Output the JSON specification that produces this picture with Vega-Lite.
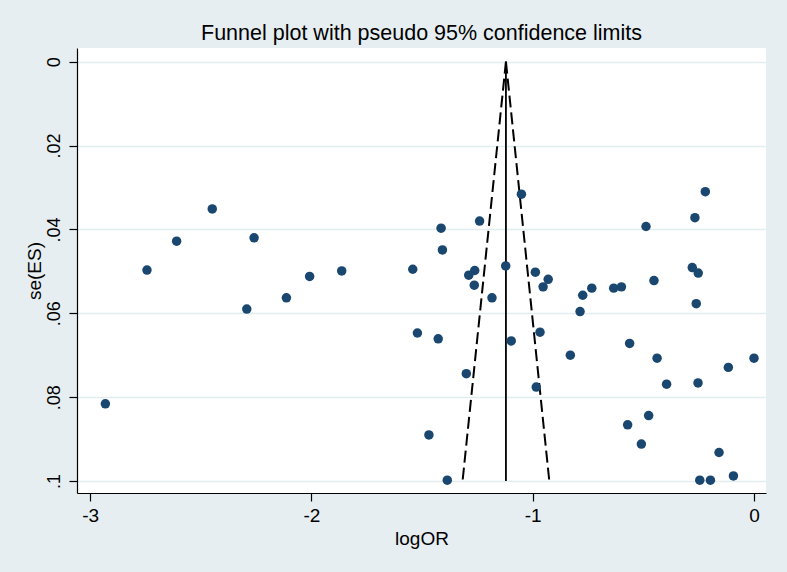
{
  "$schema": "https://vega.github.io/schema/vega-lite/v6.json",
  "width": 689,
  "height": 445,
  "autosize": {"type": "none"},
  "padding": {"left": 77, "top": 48, "right": 21, "bottom": 79},
  "background": "#e6eef1",
  "title": {
    "text": "Funnel plot with pseudo 95% confidence limits",
    "font": "Liberation Sans",
    "fontSize": 21.5,
    "fontWeight": "normal",
    "color": "#000000",
    "anchor": "middle",
    "baseline": "alphabetic",
    "offset": 7,
    "dy": 20
  },
  "config": {
    "view": {"fill": "#ffffff", "stroke": null},
    "axis": {
      "labelFont": "Liberation Sans",
      "titleFont": "Liberation Sans",
      "labelColor": "#000000",
      "titleColor": "#000000",
      "domainColor": "#000000",
      "tickColor": "#000000",
      "domainWidth": 1.2,
      "tickWidth": 1.2,
      "tickSize": 8,
      "titleFontWeight": "normal"
    }
  },
  "datasets": {
    "studies": [
      {"logOR": -2.448, "se": 0.0351},
      {"logOR": -2.609, "se": 0.0428},
      {"logOR": -2.259, "se": 0.0420},
      {"logOR": -2.743, "se": 0.0497},
      {"logOR": -2.008, "se": 0.0512},
      {"logOR": -1.863, "se": 0.0499},
      {"logOR": -2.113, "se": 0.0563},
      {"logOR": -2.292, "se": 0.0590},
      {"logOR": -2.931, "se": 0.0816},
      {"logOR": -1.051, "se": 0.0316},
      {"logOR": -1.240, "se": 0.0380},
      {"logOR": -1.414, "se": 0.0397},
      {"logOR": -1.408, "se": 0.0449},
      {"logOR": -1.542, "se": 0.0495},
      {"logOR": -1.122, "se": 0.0487},
      {"logOR": -1.262, "se": 0.0498},
      {"logOR": -1.289, "se": 0.0509},
      {"logOR": -1.264, "se": 0.0533},
      {"logOR": -0.988, "se": 0.0502},
      {"logOR": -0.930, "se": 0.0519},
      {"logOR": -0.953, "se": 0.0537},
      {"logOR": -1.184, "se": 0.0563},
      {"logOR": -1.521, "se": 0.0647},
      {"logOR": -1.427, "se": 0.0661},
      {"logOR": -1.097, "se": 0.0666},
      {"logOR": -0.967, "se": 0.0645},
      {"logOR": -0.830, "se": 0.0700},
      {"logOR": -1.300, "se": 0.0744},
      {"logOR": -0.984, "se": 0.0776},
      {"logOR": -1.469, "se": 0.0890},
      {"logOR": -1.386, "se": 0.0998},
      {"logOR": -0.220, "se": 0.0310},
      {"logOR": -0.267, "se": 0.0372},
      {"logOR": -0.488, "se": 0.0393},
      {"logOR": -0.279, "se": 0.0491},
      {"logOR": -0.252, "se": 0.0504},
      {"logOR": -0.452, "se": 0.0522},
      {"logOR": -0.733, "se": 0.0540},
      {"logOR": -0.774, "se": 0.0557},
      {"logOR": -0.634, "se": 0.0540},
      {"logOR": -0.599, "se": 0.0537},
      {"logOR": -0.261, "se": 0.0577},
      {"logOR": -0.786, "se": 0.0596},
      {"logOR": -0.562, "se": 0.0672},
      {"logOR": -0.438, "se": 0.0707},
      {"logOR": 0.000, "se": 0.0707},
      {"logOR": -0.116, "se": 0.0729},
      {"logOR": -0.395, "se": 0.0769},
      {"logOR": -0.253, "se": 0.0766},
      {"logOR": -0.476, "se": 0.0844},
      {"logOR": -0.571, "se": 0.0866},
      {"logOR": -0.509, "se": 0.0912},
      {"logOR": -0.158, "se": 0.0932},
      {"logOR": -0.245, "se": 0.0998},
      {"logOR": -0.197, "se": 0.0998},
      {"logOR": -0.093, "se": 0.0988}
    ],
    "limits": [
      {"logOR": -1.121, "se": 0.0, "side": "lower"},
      {"logOR": -1.317, "se": 0.1, "side": "lower"},
      {"logOR": -1.121, "se": 0.0, "side": "upper"},
      {"logOR": -0.925, "se": 0.1, "side": "upper"}
    ],
    "pooled": [
      {"logOR": -1.121, "se": 0.0},
      {"logOR": -1.121, "se": 0.1}
    ]
  },
  "encoding": {
    "x": {
      "field": "logOR",
      "type": "quantitative",
      "scale": {"domain": [-3.0592, 0.0542], "nice": false, "zero": false},
      "axis": {
        "title": "logOR",
        "values": [-3, -2, -1, 0],
        "grid": false,
        "labelFontSize": 19,
        "titleFontSize": 19,
        "labelPadding": 5,
        "titlePadding": 4,
        "labelExpr": "'' + datum.value"
      }
    },
    "y": {
      "field": "se",
      "type": "quantitative",
      "scale": {"domain": [-0.00327, 0.10286], "nice": false, "zero": false, "reverse": true},
      "axis": {
        "title": "se(ES)",
        "values": [0, 0.02, 0.04, 0.06, 0.08, 0.1],
        "grid": true,
        "gridColor": "#e3edf0",
        "gridWidth": 1.5,
        "labelFontSize": 18,
        "titleFontSize": 19,
        "labelAngle": -90,
        "labelAlign": "center",
        "labelBaseline": "bottom",
        "labelPadding": 6,
        "titlePadding": 1,
        "labelExpr": "datum.value == 0 ? '0' : replace(format(datum.value, '~g'), '0.', '.')"
      }
    }
  },
  "layer": [
    {
      "data": {"name": "pooled"},
      "mark": {"type": "line", "color": "#000000", "strokeWidth": 1.8},
      "encoding": {"order": {"field": "se", "type": "quantitative"}}
    },
    {
      "data": {"name": "limits"},
      "mark": {"type": "line", "color": "#000000", "strokeWidth": 2, "strokeDash": [12, 5]},
      "encoding": {
        "detail": {"field": "side", "type": "nominal"},
        "order": {"field": "se", "type": "quantitative"}
      }
    },
    {
      "data": {"name": "studies"},
      "mark": {"type": "circle", "size": 90, "opacity": 1, "color": "#1a476f"}
    }
  ]
}
